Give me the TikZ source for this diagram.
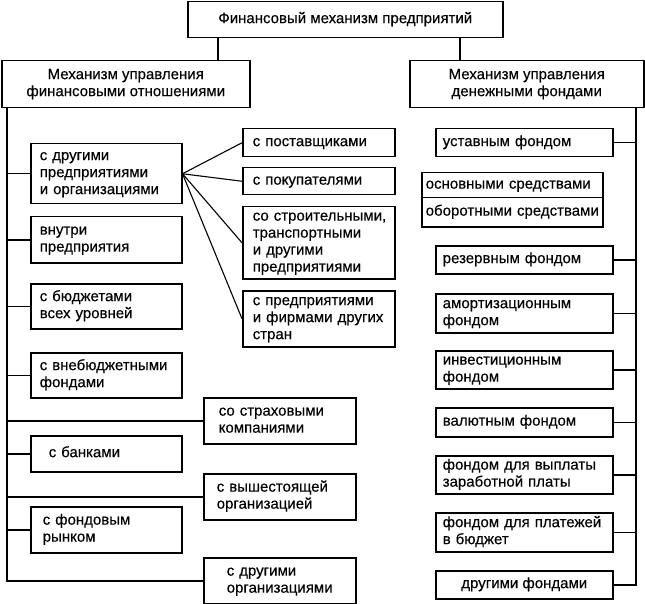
\documentclass[tikz,border=0pt]{standalone}
\usepackage{fontspec}
\setmainfont{Liberation Sans}
\newfontfamily\dfont{Liberation Sans}[FakeBold=0.3]
\usetikzlibrary{calc}
\tikzset{
  box/.style={draw, line width=1.5pt, align=left, inner ysep=0pt, font=\dfont\fontsize{15}{17}\selectfont},
  cbox/.style={box, align=center},
  ln/.style={line width=1.5pt},
  fan/.style={line width=1.1pt}
}
% name, x1, y1, x2, y2, indent, style, text
\newcommand\bx[8]{%
  \pgfmathsetmacro\bw{#4-#2}\pgfmathsetmacro\bh{#5-#3}\pgfmathsetmacro\tw{#4-#2-2*#6}%
  \node[#7, anchor=north west, minimum width=\bw pt, minimum height=\bh pt,
        text width=\tw pt, inner xsep=#6 pt] (#1) at (#2,#3)
        {\begin{tabular}{@{}l@{}}#8\end{tabular}};}
\newcommand\cbx[7]{%
  \pgfmathsetmacro\bw{#4-#2}\pgfmathsetmacro\bh{#5-#3}%
  \node[cbox, anchor=north west, minimum width=\bw pt, minimum height=\bh pt,
        inner xsep=#6 pt] (#1) at (#2,#3)
        {\begin{tabular}{@{}c@{}}#7\end{tabular}};}
\begin{document}
\begin{tikzpicture}[x=1pt,y=-1pt]
\useasboundingbox (0,0) rectangle (645,604);
% top level
\cbx{T}{187}{1}{502}{37}{0}{Финансовый механизм предприятий}
\cbx{LM}{1}{60}{249}{107}{0}{Механизм управления\\финансовыми отношениями}
\cbx{RM}{409}{60}{643}{107}{0}{Механизм управления\\денежными фондами}
% left column
\bx{L1}{30}{143}{181}{203}{9}{box}{с другими\\предприятиями\\и организациями}
\bx{L2}{30}{216}{181}{262}{9}{box}{внутри\\предприятия}
\bx{L3}{30}{283}{181}{328}{9}{box}{с бюджетами\\всех уровней}
\bx{L4}{30}{352}{181}{397}{9}{box}{с внебюджетными\\фондами}
\bx{L5}{30}{435}{181}{471}{18}{box}{с банками}
\bx{L6}{30}{506}{181}{552}{12}{box}{с фондовым\\рынком}
% wide-offset boxes
\bx{W1}{203}{397}{355}{443}{15}{box}{со страховыми\\компаниями}
\bx{W2}{203}{473}{355}{519}{13}{box}{с вышестоящей\\организацией}
\bx{W3}{203}{557}{355}{603}{23}{box}{с другими\\организациями}
% middle column
\bx{M1}{242}{128}{394}{156}{10}{box}{с поставщиками}
\bx{M2}{242}{167}{394}{194}{10}{box}{с покупателями}
\bx{M3}{242}{206}{394}{278}{10}{box}{со строительными,\\транспортными\\и другими\\предприятиями}
\bx{M4}{242}{290}{394}{346}{10}{box}{с предприятиями\\и фирмами других\\стран}
% right column
\bx{R1}{435}{128}{612}{156}{7}{box}{уставным фондом}
\bx{R2a}{421}{172}{602}{197}{4}{box}{основными средствами}
\bx{R2b}{421}{197}{602}{226}{4}{box}{оборотными средствами}
\bx{R3}{435}{245}{612}{273}{7}{box}{резервным фондом}
\bx{R4}{435}{293}{612}{332}{7}{box}{амортизационным\\фондом}
\bx{R5}{435}{350}{612}{388}{7}{box}{инвестиционным\\фондом}
\bx{R6}{435}{407}{612}{436}{7}{box}{валютным фондом}
\bx{R7}{435}{455}{612}{493}{7}{box}{фондом для выплаты\\заработной платы}
\bx{R8}{435}{512}{612}{551}{7}{box}{фондом для платежей\\в бюджет}
\cbx{R9}{435}{570}{612}{598}{0}{другими фондами}
% connectors
\coordinate (tl) at (218,0);
\coordinate (tr) at (460,0);
\coordinate (sl) at (7,0);
\coordinate (sr) at (636,0);
\draw[ln] (tl |- T.south) -- (tl |- LM.north);
\draw[ln] (tr |- T.south) -- (tr |- RM.north);
\draw[ln] (sl |- LM.south) -- (sl |- W3.west) -- (W3.west);
\foreach \n in {L1,L2,L3,L4,W1,L5,W2,L6} \draw[ln] (sl |- \n.west) -- (\n.west);
\draw[ln] (sr |- RM.south) -- (sr |- R9.east) -- (R9.east);
\foreach \n in {R1,R3,R4,R5,R6,R7,R8} \draw[ln] (sr |- \n.east) -- (\n.east);
\foreach \n in {M1,M2,M3,M4} \draw[fan] (L1.east) -- (\n.west);
\end{tikzpicture}
\end{document}
